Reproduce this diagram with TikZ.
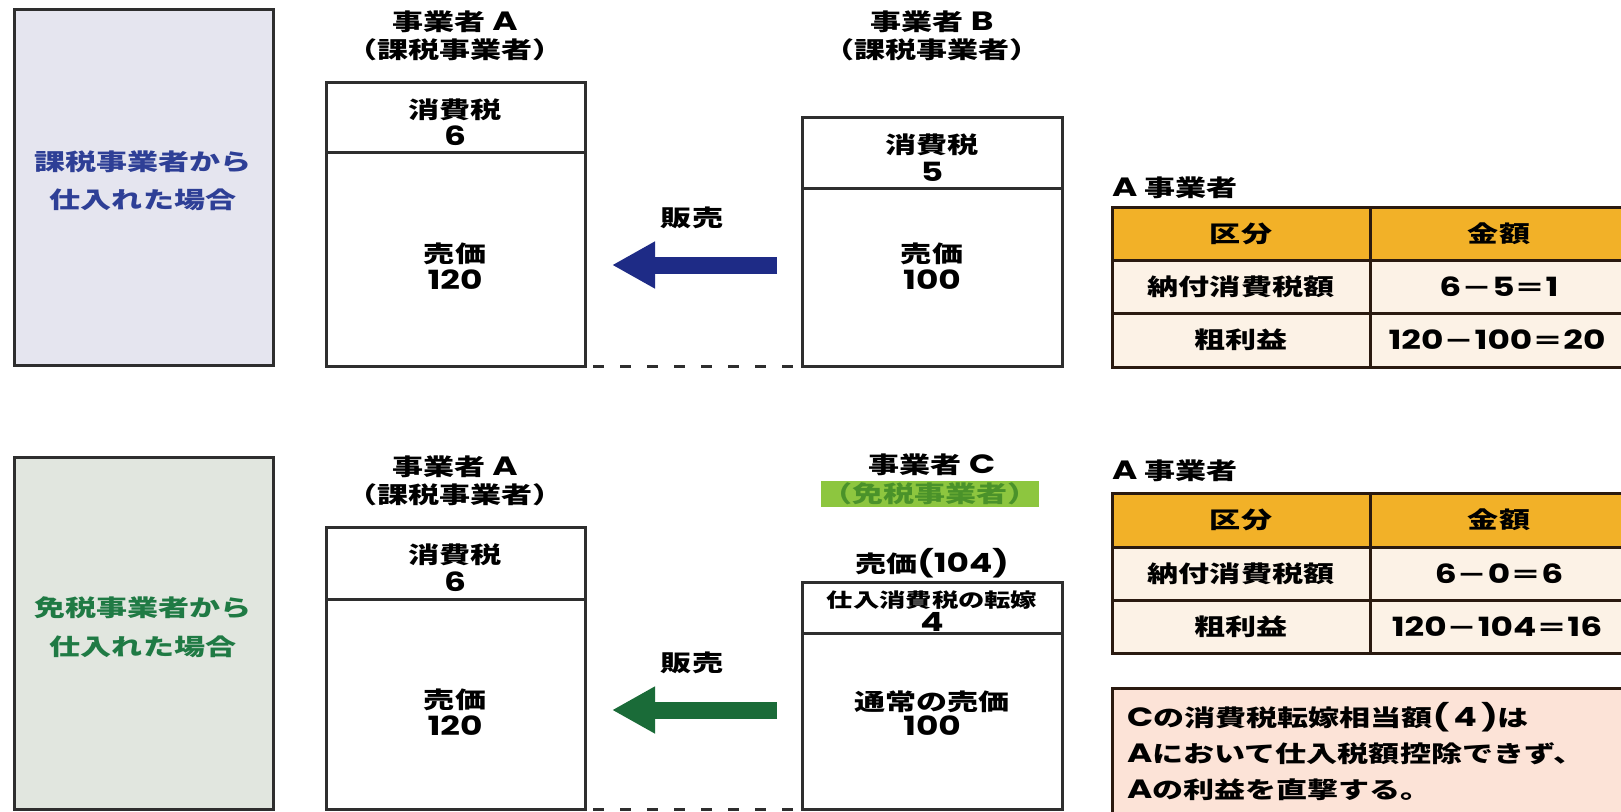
\documentclass[tikz,border=0pt]{standalone}
\usepackage{fontspec}
\setmainfont{Noto Sans CJK JP}[FakeStretch=1.35]
\newfontfamily\latf{Poppins}[FakeStretch=1.3, Scale=1.15]
\newcommand{\nm}[1]{{\latf #1}}
\usetikzlibrary{arrows.meta}
\definecolor{boxline}{HTML}{2E2E2E}
\definecolor{lavender}{HTML}{E5E5EF}
\definecolor{sage}{HTML}{E1E6DF}
\definecolor{navytext}{HTML}{2E3F96}
\definecolor{greentext}{HTML}{1F7A44}
\definecolor{navyarrow}{HTML}{1E2B86}
\definecolor{greenarrow}{HTML}{1A6B38}
\definecolor{headorange}{HTML}{F2B128}
\definecolor{rowcream}{HTML}{FCF2E6}
\definecolor{notepeach}{HTML}{FCE3D7}
\definecolor{limegreen}{HTML}{8DC63F}
\definecolor{limetext}{HTML}{4A922A}
\definecolor{tabline}{HTML}{2A1A10}
\tikzset{
  panel/.style={draw=boxline, line width=3pt, anchor=north west, inner sep=0pt, outer sep=0pt},
  divline/.style={draw=boxline, line width=3pt},
  txt/.style={font=\fontsize{23}{27}\selectfont\bfseries, inner sep=0pt, text=black},
  smalltxt/.style={font=\fontsize{19.5}{23}\selectfont\bfseries, inner sep=0pt, text=black},
  dashline/.style={draw=boxline, line width=3pt, dash pattern=on 11pt off 16pt, dash phase=-8pt},
  bigarrow/.style={line width=17pt, -{Triangle[length=43pt,width=44pt]}},
  tabframe/.style={draw=tabline, line width=3pt},
}
\begin{document}
\begin{tikzpicture}[x=1pt,y=-1pt]
\clip (0,0) rectangle (1621,811);
\fill[white] (0,0) rectangle (1621,811);

% ===== top section =====
\node[panel, fill=lavender, minimum width=259pt, minimum height=356pt] (caseT) at (14,9) {};
\node[txt, text=navytext] (caseT1) at (143,162) {課税事業者から};
\node[txt, text=navytext] (caseT2) at (143,200) {仕入れた場合};

\node[txt] (hAT1) at (455,22) {事業者 \nm{A}};
\node[txt] (hAT2) at (455,50) {（課税事業者）};
\node[panel, minimum width=259pt, minimum height=284pt] (boxAT) at (326,82) {};
\draw[divline] (326,152) -- (585,152);
\node[txt] (aTtax) at (455,110) {消費税};
\node[txt] (aTtaxv) at (455,136) {\nm{6}};
\node[txt] (aTpr) at (455,254) {売価};
\node[txt] (aTprv) at (455,280) {\nm{120}};

\node[txt] (hBT1) at (932,22) {事業者 \nm{B}};
\node[txt] (hBT2) at (932,50) {（課税事業者）};
\node[panel, minimum width=260pt, minimum height=249pt] (boxBT) at (802,117) {};
\draw[divline] (802,188) -- (1062,188);
\node[txt] (bTtax) at (932,145) {消費税};
\node[txt] (bTtaxv) at (932,172) {\nm{5}};
\node[txt] (bTpr) at (932,254) {売価};
\node[txt] (bTprv) at (932,280) {\nm{100}};

\draw[dashline] (boxAT.south east) -- (boxBT.south west);
\node[txt] (saleT) at (692,218) {販売};
\coordinate (arrTs) at (777,265);
\coordinate (arrTe) at (612,265);
\draw[bigarrow, navyarrow] (arrTs) -- (arrTe);

\node[txt, anchor=west] (titleT) at (1112,188) {\nm{A} 事業者};
\fill[headorange] (1112,207) rectangle (1640,260);
\fill[rowcream] (1112,260) rectangle (1640,367);
\draw[tabframe] (1112,207) rectangle (1640,367);
\draw[tabframe] (1112,260) -- (1640,260);
\draw[tabframe] (1112,313) -- (1640,313);
\draw[tabframe] (1370,207) -- (1370,367);
\node[txt] (tT11) at (1241,234) {区分};
\node[txt] (tT12) at (1499,234) {金額};
\node[txt] (tT21) at (1241,287) {納付消費税額};
\node[txt] (tT22) at (1499,287) {\nm{6}－\nm{5}＝\nm{1}};
\node[txt] (tT31) at (1241,340) {粗利益};
\node[txt] (tT32) at (1497,340) {\nm{120}－\nm{100}＝\nm{20}};

% ===== bottom section =====
\node[panel, fill=sage, minimum width=259pt, minimum height=352pt] (caseB) at (14,457) {};
\node[txt, text=greentext] (caseB1) at (143,608) {免税事業者から};
\node[txt, text=greentext] (caseB2) at (143,647) {仕入れた場合};

\node[txt] (hAB1) at (455,467) {事業者 \nm{A}};
\node[txt] (hAB2) at (455,495) {（課税事業者）};
\node[panel, minimum width=259pt, minimum height=282pt] (boxAB) at (326,527) {};
\draw[divline] (326,599) -- (585,599);
\node[txt] (aBtax) at (455,555) {消費税};
\node[txt] (aBtaxv) at (455,582) {\nm{6}};
\node[txt] (aBpr) at (455,700) {売価};
\node[txt] (aBprv) at (455,726) {\nm{120}};

\node[txt] (hCB1) at (932,465) {事業者 \nm{C}};
\node[txt, fill=limegreen, text=limetext, minimum width=206pt, minimum height=26pt] (hCB2) at (930,494) {（免税事業者）};
\node[txt] (cBtot) at (932,563) {売価\nm{(104)}};
\node[panel, minimum width=260pt, minimum height=227pt] (boxCB) at (802,582) {};
\draw[divline] (802,633) -- (1062,633);
\node[smalltxt] (cBtax) at (932,600) {仕入消費税の転嫁};
\node[txt] (cBtaxv) at (932,622) {\nm{4}};
\node[txt] (cBpr) at (932,702) {通常の売価};
\node[txt] (cBprv) at (932,726) {\nm{100}};

\draw[dashline] (boxAB.south east) -- (boxCB.south west);
\node[txt] (saleB) at (692,663) {販売};
\coordinate (arrBs) at (777,710);
\coordinate (arrBe) at (612,710);
\draw[bigarrow, greenarrow] (arrBs) -- (arrBe);

\node[txt, anchor=west] (titleB) at (1112,471) {\nm{A} 事業者};
\fill[headorange] (1112,493) rectangle (1640,547);
\fill[rowcream] (1112,547) rectangle (1640,653);
\draw[tabframe] (1112,493) rectangle (1640,653);
\draw[tabframe] (1112,547) -- (1640,547);
\draw[tabframe] (1112,600) -- (1640,600);
\draw[tabframe] (1370,493) -- (1370,653);
\node[txt] (tB11) at (1241,520) {区分};
\node[txt] (tB12) at (1499,520) {金額};
\node[txt] (tB21) at (1241,574) {納付消費税額};
\node[txt] (tB22) at (1499,574) {\nm{6}－\nm{0}＝\nm{6}};
\node[txt] (tB31) at (1241,627) {粗利益};
\node[txt] (tB32) at (1497,627) {\nm{120}－\nm{104}＝\nm{16}};

\node[panel, draw=tabline, fill=notepeach, minimum width=540pt, minimum height=160pt] (note) at (1112,688) {};
\node[txt, anchor=west, align=left, font=\fontsize{23}{36}\selectfont\bfseries] (noteT) at (1127,752) {\nm{C}の消費税転嫁相当額\nm{(\,4\,)}は\\\nm{A}において仕入税額控除できず、\\\nm{A}の利益を直撃する。};
\end{tikzpicture}
\end{document}
